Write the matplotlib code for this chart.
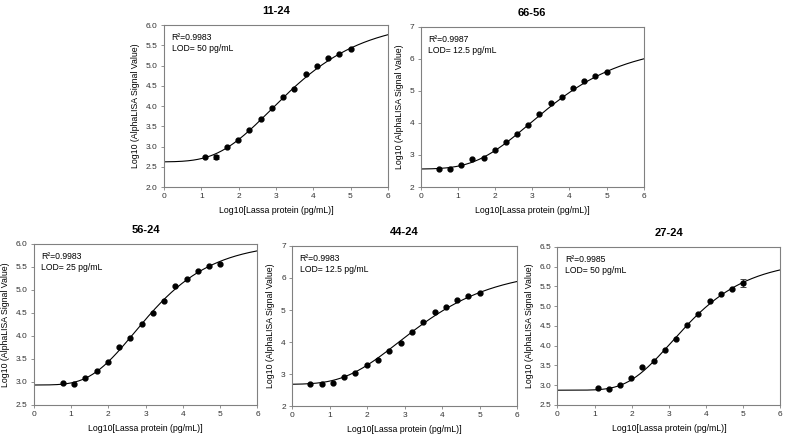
import numpy as np
import matplotlib
matplotlib.use("Agg")
import matplotlib.pyplot as plt

plt.rcParams['font.family'] = ['Liberation Sans', 'DejaVu Sans']

# log10 of the 2-fold dilution series (pg/mL), 100000 down to 3.125
x_all = np.log10(100000 / 2.0 ** np.arange(15, -1, -1))

titles = ['11-24', '66-56', '56-24', '44-24', '27-24']
r2_text = ['0.9983', '0.9987', '0.9983', '0.9983', '0.9985']
lod_text = ['50 pg/mL', '12.5 pg/mL', '25 pg/mL', '12.5 pg/mL', '50 pg/mL']

# measured points (they end at the highest concentration)
y_1124 = [2.73, 2.74, 3.00, 3.17, 3.40, 3.67, 3.94, 4.22, 4.43, 4.80, 4.98, 5.19, 5.29, 5.42]
y_6656 = [2.56, 2.57, 2.68, 2.87, 2.90, 3.15, 3.39, 3.64, 3.94, 4.28, 4.61, 4.81, 5.10, 5.32, 5.45, 5.60]
y_5624 = [2.98, 2.95, 3.08, 3.24, 3.42, 3.75, 3.95, 4.26, 4.50, 4.75, 5.08, 5.23, 5.41, 5.52, 5.55]
y_4424 = [2.68, 2.69, 2.72, 2.91, 3.02, 3.27, 3.45, 3.72, 3.96, 4.31, 4.62, 4.93, 5.10, 5.30, 5.45, 5.52]
y_2724 = [2.92, 2.90, 3.01, 3.18, 3.45, 3.61, 3.90, 4.17, 4.53, 4.81, 5.12, 5.30, 5.43, 5.58]
ys = [y_1124, y_6656, y_5624, y_4424, y_2724]

# error bars (only a few are visible)
err_1124 = [0, 0.05, 0, 0, 0, 0, 0, 0, 0, 0, 0, 0, 0, 0]
err_2724 = [0, 0, 0, 0, 0, 0, 0, 0, 0, 0, 0, 0, 0, 0.10]
errs = [err_1124, None, None, None, err_2724]

# Gompertz fit parameters: y0, a, x0, b
fits = [
    (2.62, 3.50, 2.865, 1.41),
    (2.56, 3.90, 2.95, 1.47),
    (2.93, 3.10, 2.70, 1.18),
    (2.68, 3.60, 2.85, 1.45),
    (2.87, 3.30, 3.07, 1.16),
]

ylims = [(2.0, 6.0), (2, 7), (2.5, 6.0), (2, 7), (2.5, 6.5)]
ysteps = [0.5, 1, 0.5, 1, 0.5]

# axes boxes in figure fractions
boxes = [
    [0.209, 0.575, 0.285, 0.368],
    [0.536, 0.575, 0.284, 0.364],
    [0.043, 0.080, 0.285, 0.366],
    [0.372, 0.077, 0.287, 0.364],
    [0.710, 0.080, 0.284, 0.359],
]

fig = plt.figure(figsize=(7.85, 4.4), dpi=100)
grey = '#808080'

for i in range(5):
    ax = fig.add_axes(boxes[i])
    y = np.array(ys[i])
    x = x_all[len(x_all) - len(y):]

    # fitted curve
    y0, a, x0, b = fits[i]
    xc = np.linspace(0, 6, 300)
    yc = y0 + a * np.exp(-np.exp(-(xc - x0) / b))
    ax.plot(xc, yc, color='black', lw=0.8, zorder=2)

    if errs[i] is not None:
        e = np.array(errs[i])
        m = e > 0
        ax.errorbar(x[m], y[m], yerr=e[m], fmt='none', ecolor='#444444',
                    elinewidth=0.7, capsize=2.5, capthick=0.7, zorder=3)
    ax.plot(x, y, 'o', color='black', ms=3.5, zorder=4)

    ax.set_xlim(0, 6)
    ax.set_ylim(*ylims[i])
    ax.set_xticks(range(7))
    yt = np.arange(ylims[i][0], ylims[i][1] + 1e-6, ysteps[i])
    ax.set_yticks(yt)
    if ysteps[i] < 1:
        ax.set_yticklabels([f'{v:.1f}' for v in yt])
    else:
        ax.set_yticklabels([f'{v:.0f}' for v in yt])

    for s in ax.spines.values():
        s.set_color(grey)
        s.set_linewidth(0.8)
    ax.tick_params(direction='out', length=2.5, width=0.6, color=grey,
                   labelsize=6, labelcolor='#333333', pad=2)

    ax.set_xlabel('Log10[Lassa protein (pg/mL)]', fontsize=6.3, labelpad=4)
    ax.set_ylabel('Log10 (AlphaLISA Signal Value)', fontsize=6.3, labelpad=4)
    ax.set_title(titles[i], fontsize=8, fontweight='bold', pad=8)

    ax.text(0.034, 0.95, f'R\u00b2={r2_text[i]}\nLOD= {lod_text[i]}',
            transform=ax.transAxes, fontsize=6.2, va='top', ha='left',
            linespacing=1.3)

fig.savefig('out.png', dpi=100)
